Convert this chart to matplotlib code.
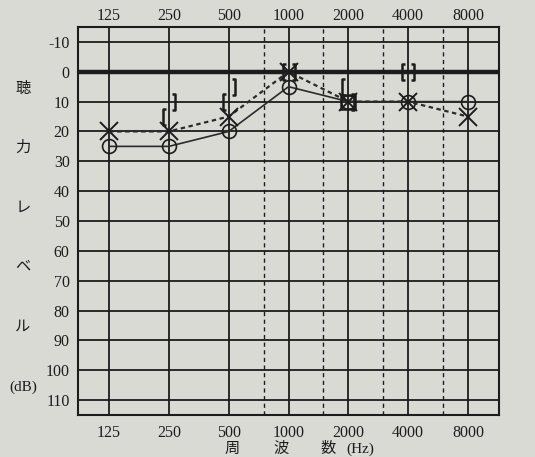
# オージオグラム (audiogram) の再現
import numpy as np
import matplotlib
matplotlib.use('Agg')
import matplotlib.pyplot as plt
from matplotlib.path import Path

# データ
freqs = [125, 250, 500, 1000, 2000, 4000, 8000]
freq_labels = ['125', '250', '500', '1000', '2000', '4000', '8000']
half_freqs = [750, 1500, 3000, 6000]
levels = list(range(-10, 111, 10))

# 気導 右 (O) / 左 (X)
right_air = [25, 25, 20, 5, 10, 10, 10]
left_air = [20, 20, 15, 0, 10, 10, 15]

# 骨導 右 [ / 左 ]
bone_freqs = [250, 500, 1000, 2000, 4000]
right_bone = [15, 10, 0, 5, 0]
left_bone = [10, 5, 0, 10, 0]

# 2000Hz の四角
box_freqs = [2000]
box_levels = [10]

ink = '#1c1c1c'
bg = '#dadad5'

plt.rcParams['font.family'] = ['Liberation Serif', 'Noto Sans CJK JP', 'DejaVu Sans']
plt.rcParams['axes.unicode_minus'] = False

fig = plt.figure(figsize=(5.35, 4.57), dpi=100, facecolor=bg)
ax = fig.add_axes([78 / 535, 1 - 415 / 457, 421 / 535, 388 / 457])
ax.set_facecolor(bg)

ax.set_xscale('log', base=2)
xlim = (125 * 2 ** -0.52, 8000 * 2 ** 0.52)
ax.set_xlim(*xlim)
ax.set_ylim(115, -15)

# 格子
for lv in levels:
    ax.axhline(lv, color=ink, lw=3.2 if lv == 0 else 1.3, zorder=1)
for f in freqs:
    ax.axvline(f, color=ink, lw=1.3, zorder=1)
for f in half_freqs:
    ax.axvline(f, color=ink, lw=1.0, ls=(0, (3, 2.5)), zorder=1)

ax.set_xticks(freqs)
ax.set_xticklabels(freq_labels)
ax.xaxis.set_minor_locator(matplotlib.ticker.NullLocator())
ax.set_yticks(levels)
ax.tick_params(axis='x', length=0, labelsize=11.5, pad=7, colors=ink)
ax.tick_params(axis='y', length=0, labelsize=11.5, pad=6, colors=ink)
for s in ax.spines.values():
    s.set_color(ink)
    s.set_linewidth(1.5)

# 上側の周波数目盛
top = ax.twiny()
top.set_xscale('log', base=2)
top.set_xlim(*xlim)
top.set_xticks(freqs)
top.set_xticklabels(freq_labels)
top.xaxis.set_minor_locator(matplotlib.ticker.NullLocator())
top.tick_params(axis='x', length=0, labelsize=11.5, pad=2.5, colors=ink)
for s in top.spines.values():
    s.set_visible(False)

# 気導
ax.plot(freqs, right_air, color='#2a2a2a', lw=1.2, marker='o', ms=10,
        mfc='none', mec=ink, mew=1.2, zorder=3)
ax.plot(freqs, left_air, color='#2a2a2a', lw=1.6, ls=(0, (2, 1.6)), marker='x',
        ms=12.5, mec=ink, mew=1.4, zorder=3)

# 骨導の括弧
lb = Path([(-0.45, 1), (-0.85, 1), (-0.85, -1), (-0.45, -1)],
          [Path.MOVETO, Path.LINETO, Path.LINETO, Path.LINETO])
rb = Path([(0.45, 1), (0.85, 1), (0.85, -1), (0.45, -1)],
          [Path.MOVETO, Path.LINETO, Path.LINETO, Path.LINETO])
ax.plot(bone_freqs, right_bone, ls='none', marker=lb, ms=11, mfc='none',
        mec=ink, mew=1.8, zorder=4)
ax.plot(bone_freqs, left_bone, ls='none', marker=rb, ms=11, mfc='none',
        mec=ink, mew=1.8, zorder=4)
ax.plot(box_freqs, box_levels, ls='none', marker='s', ms=10, mfc='none',
        mec=ink, mew=1.8, zorder=4)

# 軸ラベル
ylab = ['聴', '力', 'レ', 'ベ', 'ル', '(dB)']
ypos = [89, 148, 208, 267, 327, 387]
for ch, yp in zip(ylab, ypos):
    fig.text(23 / 535, 1 - yp / 457, ch, ha='center', va='center',
             fontsize=11, color=ink)

xlab = ['周', '波', '数', '(Hz)']
xpos = [232, 281, 328, 360]
for ch, xp in zip(xlab, xpos):
    fig.text(xp / 535, 1 - 449 / 457, ch, ha='center', va='center',
             fontsize=11, color=ink)

fig.savefig('out.png', dpi=100, facecolor=bg)
